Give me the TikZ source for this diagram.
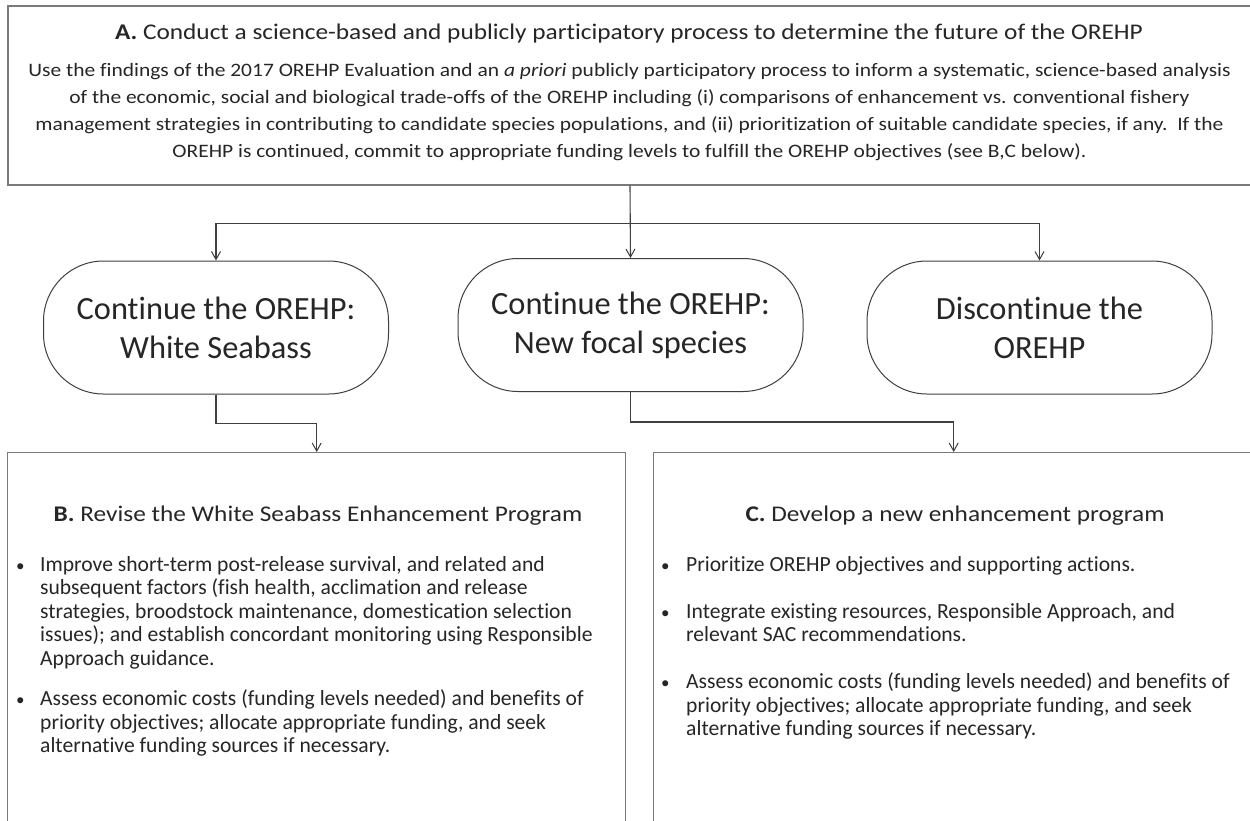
\documentclass[tikz,border=0pt]{standalone}
\usepackage{fontspec}
\setmainfont{Carlito}[Ligatures=NoCommon]
\newfontfamily\widefont{Carlito}[FakeStretch=1.13, Ligatures=NoCommon]
\usetikzlibrary{positioning,arrows.meta}

\definecolor{inkgray}{HTML}{262626}
\definecolor{framegray}{HTML}{7A7A7A}
\definecolor{linegray}{HTML}{3F3F3F}

\newcommand{\dotmark}{{\fontsize{17}{17}\selectfont\textbullet}}

\tikzset{
    panel/.style={draw=framegray, line width=1.4pt, rectangle, inner sep=0pt},
    choice/.style={draw=linegray, line width=1pt, rounded corners=60pt,
        minimum width=345pt, minimum height=133pt, align=center,
        text=inkgray, font=\fontsize{32.4}{39}\selectfont},
    heading/.style={text=inkgray, inner sep=0pt, font=\widefont\fontsize{22.4}{27}\selectfont},
    bodytext/.style={text=inkgray, inner sep=0pt, font=\widefont\fontsize{19}{27}\selectfont},
    listtext/.style={text=inkgray, inner sep=0pt, font=\fontsize{21.6}{23.5}\selectfont},
    link/.style={draw=linegray, line width=1.1pt, -{Straight Barb[length=8pt,width=9pt,line width=1pt]}}
}

\begin{document}
\begin{tikzpicture}[x=1pt, y=1pt]
    \useasboundingbox (0,0) rectangle (1250,-820);
    \fill[white] (0,0) rectangle (1250,-820);
    \clip (0,0) rectangle (1250,-820);

    % --- A: top box ---
    \node[panel, minimum width=1244pt, minimum height=179pt] (A) at (630,-95.5) {};
    \node[heading, anchor=base] (Atitle) at (629,-39) {\textbf{A.} Conduct a science-based and publicly participatory process to determine the future of the OREHP};
    \node[bodytext, anchor=base] (Abody) at (629.5,-76) {%
        \begin{tabular}[t]{@{}c@{}}
        Use the findings of the 2017 OREHP Evaluation and an \textit{a priori} publicly participatory process to inform a systematic, science-based analysis\\
        of the economic, social and biological trade-offs of the OREHP including (i) comparisons of enhancement vs. conventional fishery\\
        management strategies in contributing to candidate species populations, and (ii) prioritization of suitable candidate species, if any.\ \ If the\\
        OREHP is continued, commit to appropriate funding levels to fulfill the OREHP objectives (see B,C below).
        \end{tabular}};

    % --- three options ---
    \node[choice] (cont1) at (216,-327.5) {Continue the OREHP:\\White Seabass};
    \node[choice] (cont2) at (630.5,-325) {Continue the OREHP:\\New focal species};
    \node[choice] (disc) at (1039.5,-327.5) {Discontinue the\\OREHP};

    % --- B and C boxes ---
    \node[panel, minimum width=618pt, minimum height=390pt, anchor=north west] (B) at (7,-452) {};
    \node[panel, minimum width=600pt, minimum height=390pt, anchor=north west] (C) at (653,-452) {};

    % --- connectors ---
    \path (A.south) ++(0,-38) coordinate (split);
    \draw[link] (A.south) -- (cont2.north);
    \foreach \n in {cont1, disc} {
        \draw[link] (split) -| (\n.north);
    }
    \draw[link] (cont1.south) -- ++(0,-29) -| (B.north);
    \draw[link] (cont2.south) -- ++(0,-30) -| (C.north);

    % --- B text ---
    \node[heading, anchor=base] (Btitle) at (318,-521) {\textbf{B.} Revise the White Seabass Enhancement Program};
    \node[listtext, anchor=base west] (Blist) at (16,-571) {%
        \begin{tabular}[t]{@{}p{24pt}@{}l@{}}
        \dotmark & Improve short-term post-release survival, and related and\\
                 & subsequent factors (fish health, acclimation and release\\
                 & strategies, broodstock maintenance, domestication selection\\
                 & issues); and establish concordant monitoring using Responsible\\
                 & Approach guidance.\\[17pt]
        \dotmark & Assess economic costs (funding levels needed) and benefits of\\
                 & priority objectives; allocate appropriate funding, and seek\\
                 & alternative funding sources if necessary.
        \end{tabular}};

    % --- C text ---
    \node[heading, anchor=base] (Ctitle) at (955,-521) {\textbf{C.} Develop a new enhancement program};
    \node[listtext, anchor=base west] (Clist) at (661,-571) {%
        \begin{tabular}[t]{@{}p{25pt}@{}l@{}}
        \dotmark & Prioritize OREHP objectives and supporting actions.\\[23.5pt]
        \dotmark & Integrate existing resources, Responsible Approach, and\\
                 & relevant SAC recommendations.\\[23.5pt]
        \dotmark & Assess economic costs (funding levels needed) and benefits of\\
                 & priority objectives; allocate appropriate funding, and seek\\
                 & alternative funding sources if necessary.
        \end{tabular}};
\end{tikzpicture}
\end{document}
